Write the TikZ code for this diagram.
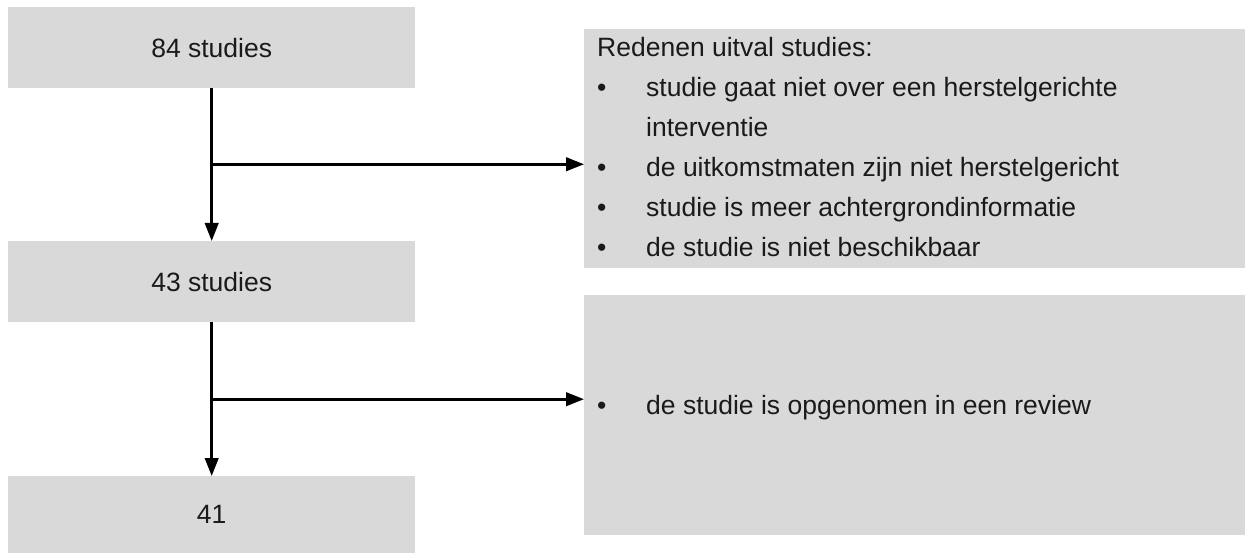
\documentclass[tikz,border=0pt]{standalone}
\usepackage{fontspec}
\setmainfont{Liberation Sans}
\usetikzlibrary{arrows.meta,calc}
\definecolor{boxgray}{HTML}{D9D9D9}
\definecolor{txtcol}{HTML}{1A1A1A}
\begin{document}
\begin{tikzpicture}[x=1pt,y=-1pt,
  box/.style={fill=boxgray, draw=none, inner sep=0pt, anchor=north west,
    font=\fontsize{26.5}{40}\selectfont, text=txtcol},
  txt/.style={inner sep=0pt, anchor=base west, font=\fontsize{26.5}{40}\selectfont, text=txtcol},
  conn/.style={line width=2.7pt, -{Triangle[length=18pt,width=13.5pt]}}
]
\useasboundingbox (0,0) rectangle (1245,553);
% left column
\node[box, minimum width=407pt, minimum height=81pt] (b1) at (8,7) {84 studies};
\node[box, minimum width=407pt, minimum height=81pt] (b2) at (8,241) {43 studies};
\node[box, minimum width=407pt, minimum height=77pt] (b3) at (8,476) {41};
% right column
\node[box, minimum width=661pt, minimum height=239pt] (r1) at (584,29) {};
\node[box, minimum width=661pt, minimum height=240pt] (r2) at (584,295) {};
% texts in r1
\node[txt] (h1) at (597,57) {Redenen uitval studies:};
\node[txt] (p1) at (597,97) {•};
\node[txt] (l1) at (646,97) {studie gaat niet over een herstelgerichte};
\node[txt] (l1b) at (646,137) {interventie};
\node[txt] (p2) at (597,177) {•};
\node[txt] (l2) at (646,177) {de uitkomstmaten zijn niet herstelgericht};
\node[txt] (p3) at (597,217) {•};
\node[txt] (l3) at (646,217) {studie is meer achtergrondinformatie};
\node[txt] (p4) at (597,257) {•};
\node[txt] (l4) at (646,257) {de studie is niet beschikbaar};
% text in r2
\node[txt] (p5) at (597,414) {•};
\node[txt] (l5) at (646,414) {de studie is opgenomen in een review};
% connectors
\coordinate (j1) at ($(b1.south)!0.497!(b2.north)$);
\coordinate (j2) at ($(b2.south)!0.5!(b3.north)$);
\draw[conn] (b1.south) -- (b2.north);
\draw[conn] (j1) -- (j1 -| r1.west);
\draw[conn] (b2.south) -- (b3.north);
\draw[conn] (j2) -- (j2 -| r2.west);
\end{tikzpicture}
\end{document}
